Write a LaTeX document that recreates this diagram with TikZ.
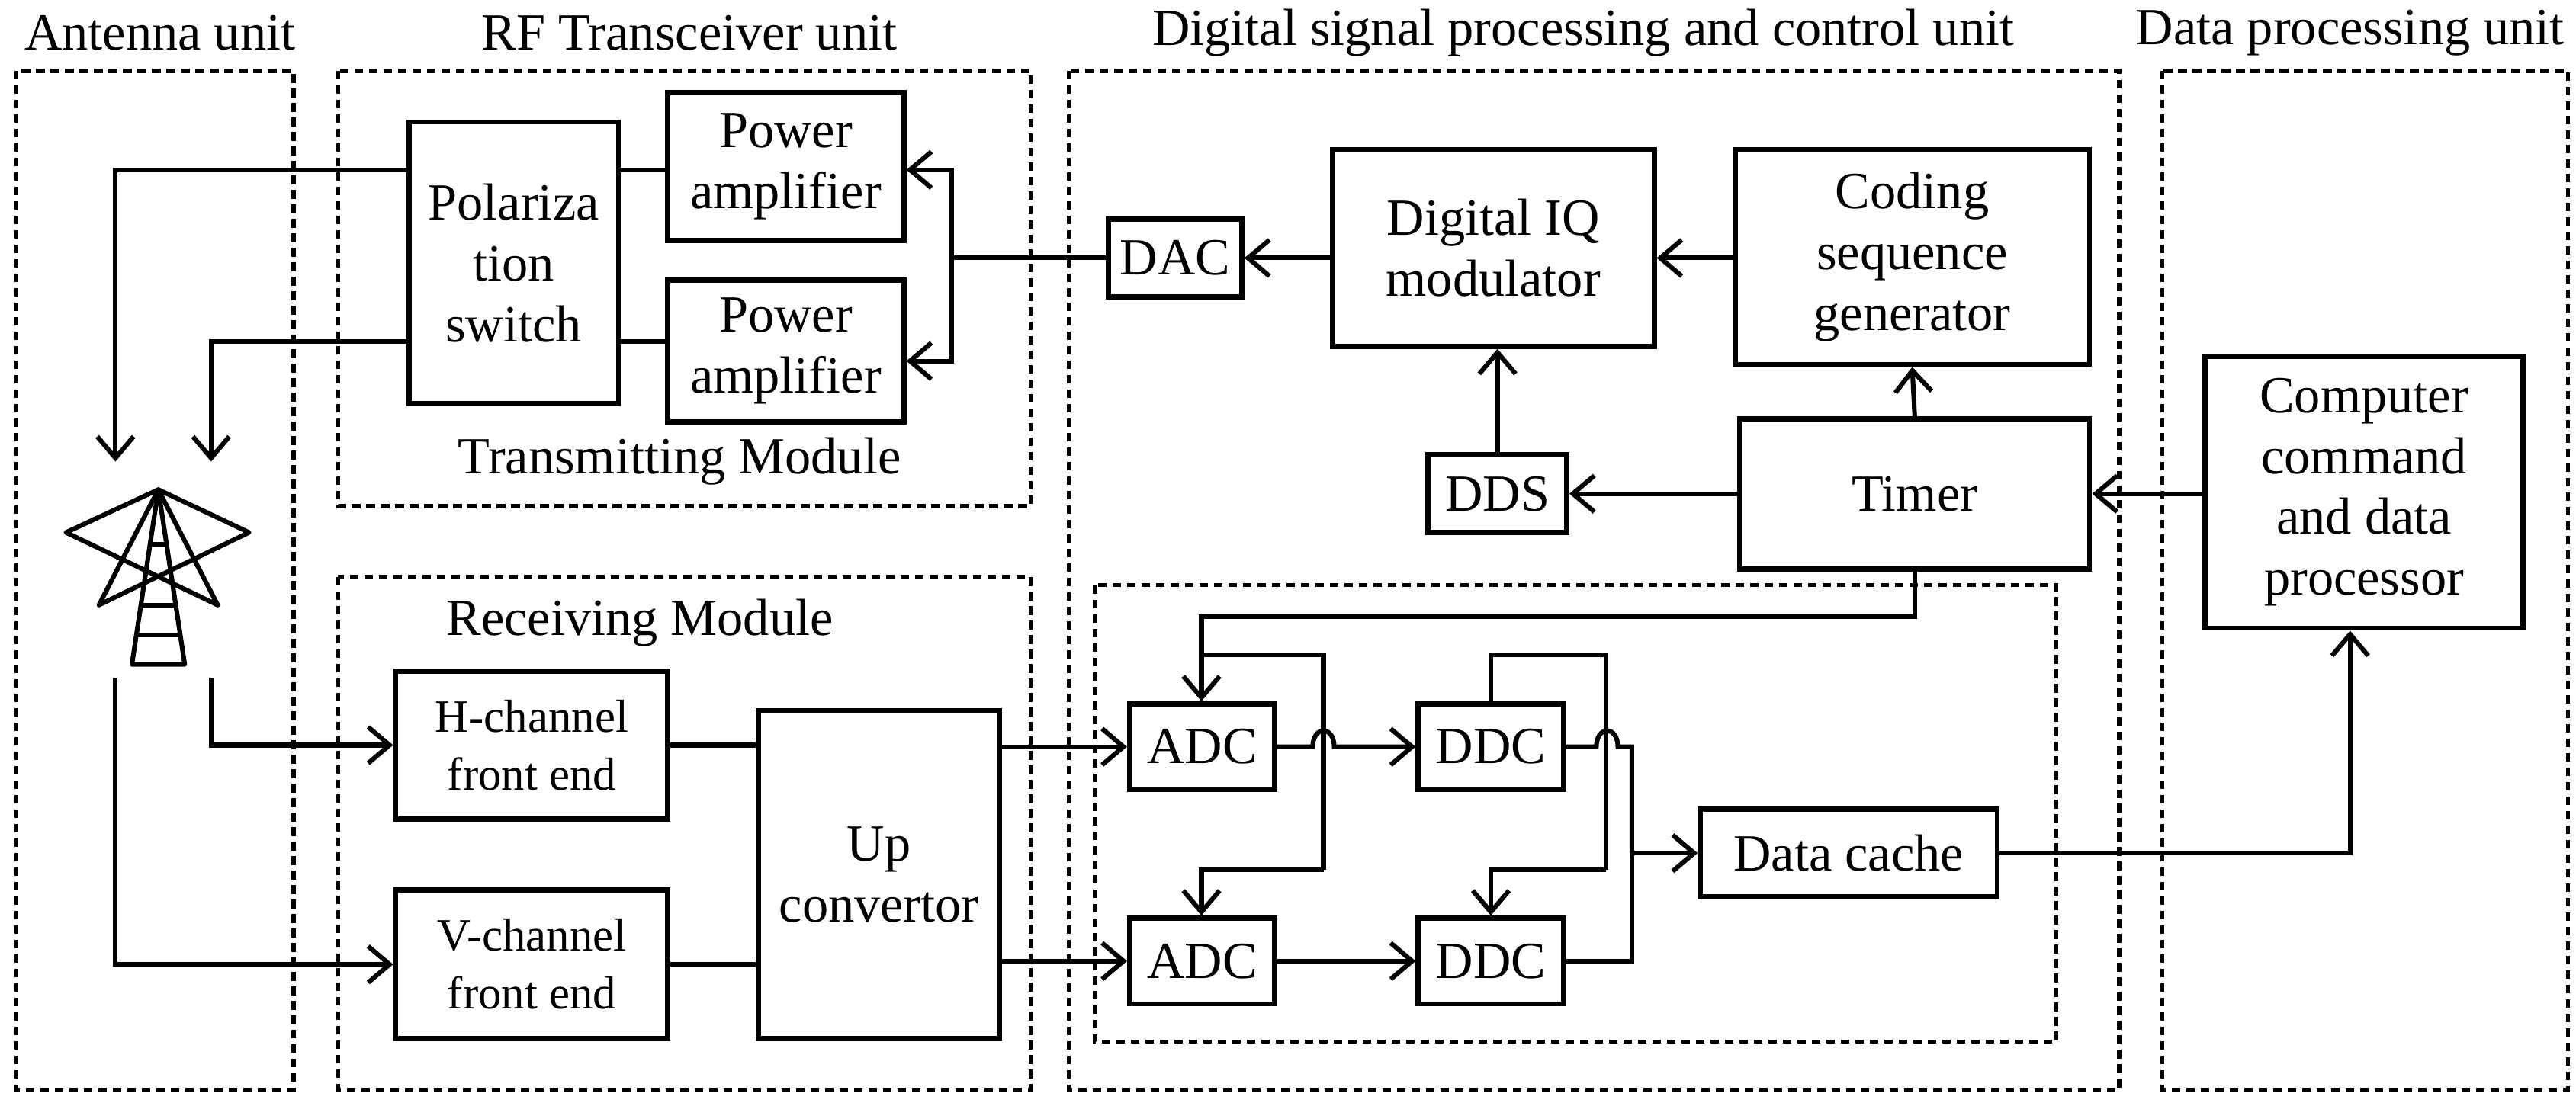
\documentclass[tikz,border=0pt]{standalone}
\usepackage{fontspec}
\setmainfont{Liberation Serif}
\usetikzlibrary{arrows.meta}
\begin{document}
\begin{tikzpicture}[x=0.02cm,y=-0.02cm,
  blk/.style={draw,line width=1.8pt,align=center,inner sep=0pt,font=\fontsize{18}{21}\selectfont},
  unit/.style={draw,dashed,line width=1.4pt,dash pattern=on 3pt off 2pt},
  ln/.style={line width=1.6pt},
  ar/.style={ln,-{Straight Barb[length=2.6mm,width=4.4mm,line width=1.6pt]}},
  ttl/.style={font=\fontsize{18}{21}\selectfont}]
\useasboundingbox (0,0) rectangle (1562,669);
% units
\draw[unit] (10,43) rectangle (178,661);
\draw[unit] (205,43) rectangle (625,307);
\draw[unit] (205,350) rectangle (625,661);
\draw[unit] (648,43) rectangle (1285,661);
\draw[unit] (664,355) rectangle (1247,632);
\draw[unit] (1311,43) rectangle (1557,661);
\node[ttl] (t1) at (97,20) {Antenna unit};
\node[ttl] (t2) at (418,20) {RF Transceiver unit};
\node[ttl] (t3) at (960,20) {Digital signal processing and control unit};
\node[ttl] (t4) at (1425,20) {Data processing unit};
\node[ttl] (tm) at (412,280) {Transmitting Module};
\node[ttl] (rm) at (388,378) {Receiving Module};
% blocks
\node[blk,minimum width=127*0.02cm,minimum height=171*0.02cm] (pol) at (311.5,159.5) {Polariza\\tion\\switch};
\node[blk,minimum width=143*0.02cm,minimum height=90*0.02cm] (pa1) at (476.5,101) {Power\\amplifier};
\node[blk,minimum width=143*0.02cm,minimum height=86*0.02cm] (pa2) at (476.5,213) {Power\\amplifier};
\node[blk,minimum width=81*0.02cm,minimum height=47*0.02cm] (dac) at (712.5,156.5) {DAC};
\node[blk,minimum width=195*0.02cm,minimum height=119*0.02cm] (iq) at (905.5,150.5) {Digital IQ\\modulator};
\node[blk,minimum width=215*0.02cm,minimum height=130*0.02cm] (cod) at (1159.5,156) {Coding\\sequence\\generator};
\node[blk,minimum width=84*0.02cm,minimum height=47*0.02cm] (dds) at (908,299.5) {DDS};
\node[blk,minimum width=212*0.02cm,minimum height=91*0.02cm] (tim) at (1161,299.5) {Timer};
\node[blk,minimum width=193*0.02cm,minimum height=165*0.02cm] (cmp) at (1433.5,298.5) {Computer\\command\\and data\\processor};
\node[blk,minimum width=165*0.02cm,minimum height=90*0.02cm,font=\fontsize{16}{20}\selectfont] (hf) at (322.5,452) {H-channel\\front end};
\node[blk,minimum width=165*0.02cm,minimum height=90*0.02cm,font=\fontsize{16}{20}\selectfont] (vf) at (322.5,585) {V-channel\\front end};
\node[blk,minimum width=146*0.02cm,minimum height=199*0.02cm] (up) at (533,530.5) {Up\\convertor};
\node[blk,minimum width=88*0.02cm,minimum height=52*0.02cm] (adc1) at (729,453) {ADC};
\node[blk,minimum width=88*0.02cm,minimum height=52*0.02cm] (ddc1) at (904,453) {DDC};
\node[blk,minimum width=88*0.02cm,minimum height=52*0.02cm] (adc2) at (729,583) {ADC};
\node[blk,minimum width=88*0.02cm,minimum height=52*0.02cm] (ddc2) at (904,583) {DDC};
\node[blk,minimum width=180*0.02cm,minimum height=53*0.02cm] (dc) at (1121,517.5) {Data cache};
% antenna
\begin{scope}[line width=1.6pt,line join=round]
\coordinate (ap) at (96,297);
\draw (ap) -- (40,323) -- (132,367) -- (ap) -- (151,323) -- (60,367) -- cycle;
\draw (ap) -- (80,403) -- (112,403) -- cycle;
\draw (92,330) -- (100,330) (85,367) -- (106,367) (82,385) -- (109,385);
\end{scope}
\coordinate (aL) at (70,411);
\coordinate (aR) at (128,411);
\coordinate (pL) at (70,280);
\coordinate (pR) at (128,280);
% transmit connections
\draw[ar] (pol.west |- 0,103) -| (pL);
\draw[ar] (pol.west |- 0,207) -| (pR);
\draw[ln] (pol.east |- 0,103) -- (pa1.west |- 0,103);
\draw[ln] (pol.east |- 0,207) -- (pa2.west |- 0,207);
\draw[ln] (dac.west) -- (577,156.5);
\draw[ar] (577,156.5) |- (pa1.east |- 0,103);
\draw[ar] (577,156.5) |- (pa2.east |- 0,219);
\draw[ar] (iq.west |- dac) -- (dac.east);
\draw[ar] (cod.west |- dac) -- (iq.east |- dac);
\draw[ar] (dds.north) -- (iq.south -| dds);
\draw[ar] (tim.west) -- (dds.east);
\draw[ar] (tim.north) -- (cod.south);
\draw[ar] (cmp.west |- tim) -- (tim.east);
% receive
\draw[ar] (aR) |- (hf.west);
\draw[ar] (aL) |- (vf.west);
\draw[ln] (hf.east) -- (up.west |- hf);
\draw[ln] (vf.east) -- (up.west |- vf);
\draw[ar] (up.east |- adc1) -- (adc1.west);
\draw[ar] (up.east |- adc2) -- (adc2.west);
\draw[ar] (tim.south) |- (728.5,374) -- (adc1.north -| 728.5,0);
\draw[ln] (728.5,397) -| (802.5,527.5);
\draw[ar] (802.5,527.5) -| (adc2.north -| 728.5,0);
\draw[ln] (ddc1.north) |- (974,397) -- (974,527.5);
\draw[ar] (974,527.5) -| (ddc2.north);
\draw[ar] (adc1.east) -- (796,453) .. controls (796,440) and (809,440) .. (809,453) -- (ddc1.west);
\draw[ln] (ddc1.east) -- (968,453) .. controls (968,440) and (981,440) .. (981,453) -| (989.5,517.5);
\draw[ln] (ddc2.east) -| (989.5,517.5);
\draw[ar] (989.5,517.5) -- (dc.west);
\draw[ar] (adc2.east) -- (ddc2.west);
\draw[ar] (dc.east) -| (cmp.south -| 1425,0);
\end{tikzpicture}
\end{document}
